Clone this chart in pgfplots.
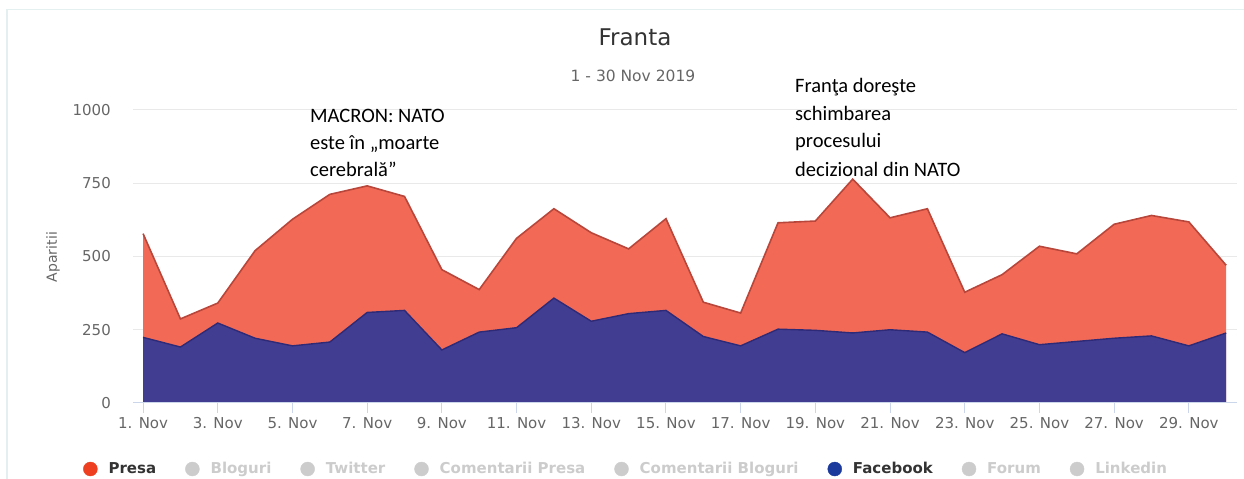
\documentclass[border=0pt]{standalone}
\usepackage{fontspec}
\setmainfont{DejaVu Sans}
\newfontfamily\notefont{Carlito}
\usepackage{pgfplots}
\usepackage{pgfplotstable}
\pgfplotsset{compat=1.18}
\definecolor{presafill}{HTML}{F26A56}
\definecolor{presaline}{HTML}{B8463A}
\definecolor{presadot}{HTML}{EE4020}
\definecolor{fbfill}{HTML}{413E92}
\definecolor{fbline}{HTML}{2E2A78}
\definecolor{fbdot}{HTML}{1C3A9C}
\definecolor{offgrey}{HTML}{CCCCCC}
\definecolor{txtgrey}{HTML}{666666}
\definecolor{gridc}{HTML}{E9E9E9}
\definecolor{axisc}{HTML}{CCD6EB}
\definecolor{framec}{HTML}{E3F0EF}

% aparitii pe zi: Facebook si Presa (stivuite)
\pgfplotstableread{
day fb presa
1 224 354
2 191 96
3 273 68
4 221 299
5 195 432
6 208 504
7 309 432
8 316 389
9 181 274
10 242 145
11 257 305
12 358 305
13 279 302
14 305 221
15 316 313
16 227 117
17 195 112
18 252 363
19 248 373
20 239 525
21 250 382
22 242 421
23 172 206
24 236 202
25 199 336
26 210 299
27 221 389
28 229 411
29 195 423
30 239 231
}\franta

\pgfplotsset{dotleg/.style={legend image code/.code={\fill[##1] (0bp,0bp) circle (7bp);}}}

\begin{document}
\begin{tikzpicture}[x=1bp, y=1bp]
\path[use as bounding box] (0,0) rectangle (1244,479);
\draw[framec, line width=1.2bp] (7,0) -- (7,469.5) -- (1244,469.5);

\node[font=\fontsize{23bp}{27bp}\selectfont, color=black!80] at (635,442) {Franta};
\node[font=\fontsize{15.5bp}{18bp}\selectfont, color=txtgrey] at (633,403) {1 - 30 Nov 2019};

\begin{axis}[
  at={(133bp,76bp)}, anchor=south west,
  scale only axis, width=1104bp, height=293bp,
  xmin=0.73, xmax=30.29, ymin=0, ymax=1000,
  axis line style={draw=none},
  axis x line*=bottom, axis y line*=left,
  xtick={1,3,...,29},
  xticklabels={1. Nov,3. Nov,5. Nov,7. Nov,9. Nov,11. Nov,13. Nov,15. Nov,
    17. Nov,19. Nov,21. Nov,23. Nov,25. Nov,27. Nov,29. Nov},
  ytick={0,250,500,750,1000},
  ymajorgrids, grid style={gridc, line width=1bp},
  xtick pos=bottom, tick align=outside,
  major tick length=10bp,
  x tick style={axisc, line width=1bp},
  y tick style={draw=none},
  tick label style={font=\fontsize{15bp}{18bp}\selectfont, color=txtgrey},
  /pgf/number format/assume math mode=true,
  /pgf/number format/1000 sep={},
  xticklabel style={anchor=base, yshift=-16bp, inner sep=0pt},
  yticklabel style={anchor=east, inner sep=0pt},
  yticklabel shift=12bp,
  ylabel={Aparitii},
  ylabel style={font=\fontsize{14bp}{17bp}\selectfont, color=txtgrey,
    at={(axis description cs:-0.0725,0.498)}, anchor=center},
  legend columns=8,
  legend style={at={(-0.0453,-0.2253)}, anchor=west, draw=none, fill=none,
    inner sep=0pt, font=\bfseries\fontsize{15bp}{18bp}\selectfont,
    nodes={inner sep=0pt},
    /tikz/every odd column/.append style={column sep=11bp},
    /tikz/every even column/.append style={column sep=29bp}},
  clip=false,
]
\addplot[fill=presafill, draw=none, forget plot]
  table[x=day, y expr=\thisrow{fb}+\thisrow{presa}] {\franta} \closedcycle;
\addplot[presaline, line width=1.6bp, forget plot]
  table[x=day, y expr=\thisrow{fb}+\thisrow{presa}] {\franta};
\addplot[fill=fbfill, draw=none, forget plot]
  table[x=day, y=fb] {\franta} \closedcycle;
\addplot[fbline, line width=1.4bp, forget plot]
  table[x=day, y=fb] {\franta};
\draw[axisc, line width=1bp] (rel axis cs:0,0) -- (rel axis cs:1,0);

\addlegendimage{dotleg, presadot}
\addlegendentry{\textcolor{black!80}{Presa}}
\addlegendimage{dotleg, offgrey}
\addlegendentry{\textcolor{offgrey}{Bloguri}}
\addlegendimage{dotleg, offgrey}
\addlegendentry{\textcolor{offgrey}{Twitter}}
\addlegendimage{dotleg, offgrey}
\addlegendentry{\textcolor{offgrey}{Comentarii Presa}}
\addlegendimage{dotleg, offgrey}
\addlegendentry{\textcolor{offgrey}{Comentarii Bloguri}}
\addlegendimage{dotleg, fbdot}
\addlegendentry{\textcolor{black!80}{Facebook}}
\addlegendimage{dotleg, offgrey}
\addlegendentry{\textcolor{offgrey}{Forum}}
\addlegendimage{dotleg, offgrey}
\addlegendentry{\textcolor{offgrey}{Linkedin}}
\end{axis}

\begin{scope}[every node/.style={anchor=base west, inner sep=0pt,
    font=\notefont\fontsize{20.5bp}{25bp}\selectfont}]
\node at (310,356) {MACRON: NATO};
\node at (310,329) {este în „moarte};
\node at (310,302) {cerebrală”};
\node at (795,386) {Franţa doreşte};
\node at (795,358) {schimbarea};
\node at (795,331) {procesului};
\node at (795,302) {decizional din NATO};
\end{scope}
\end{tikzpicture}
\end{document}
